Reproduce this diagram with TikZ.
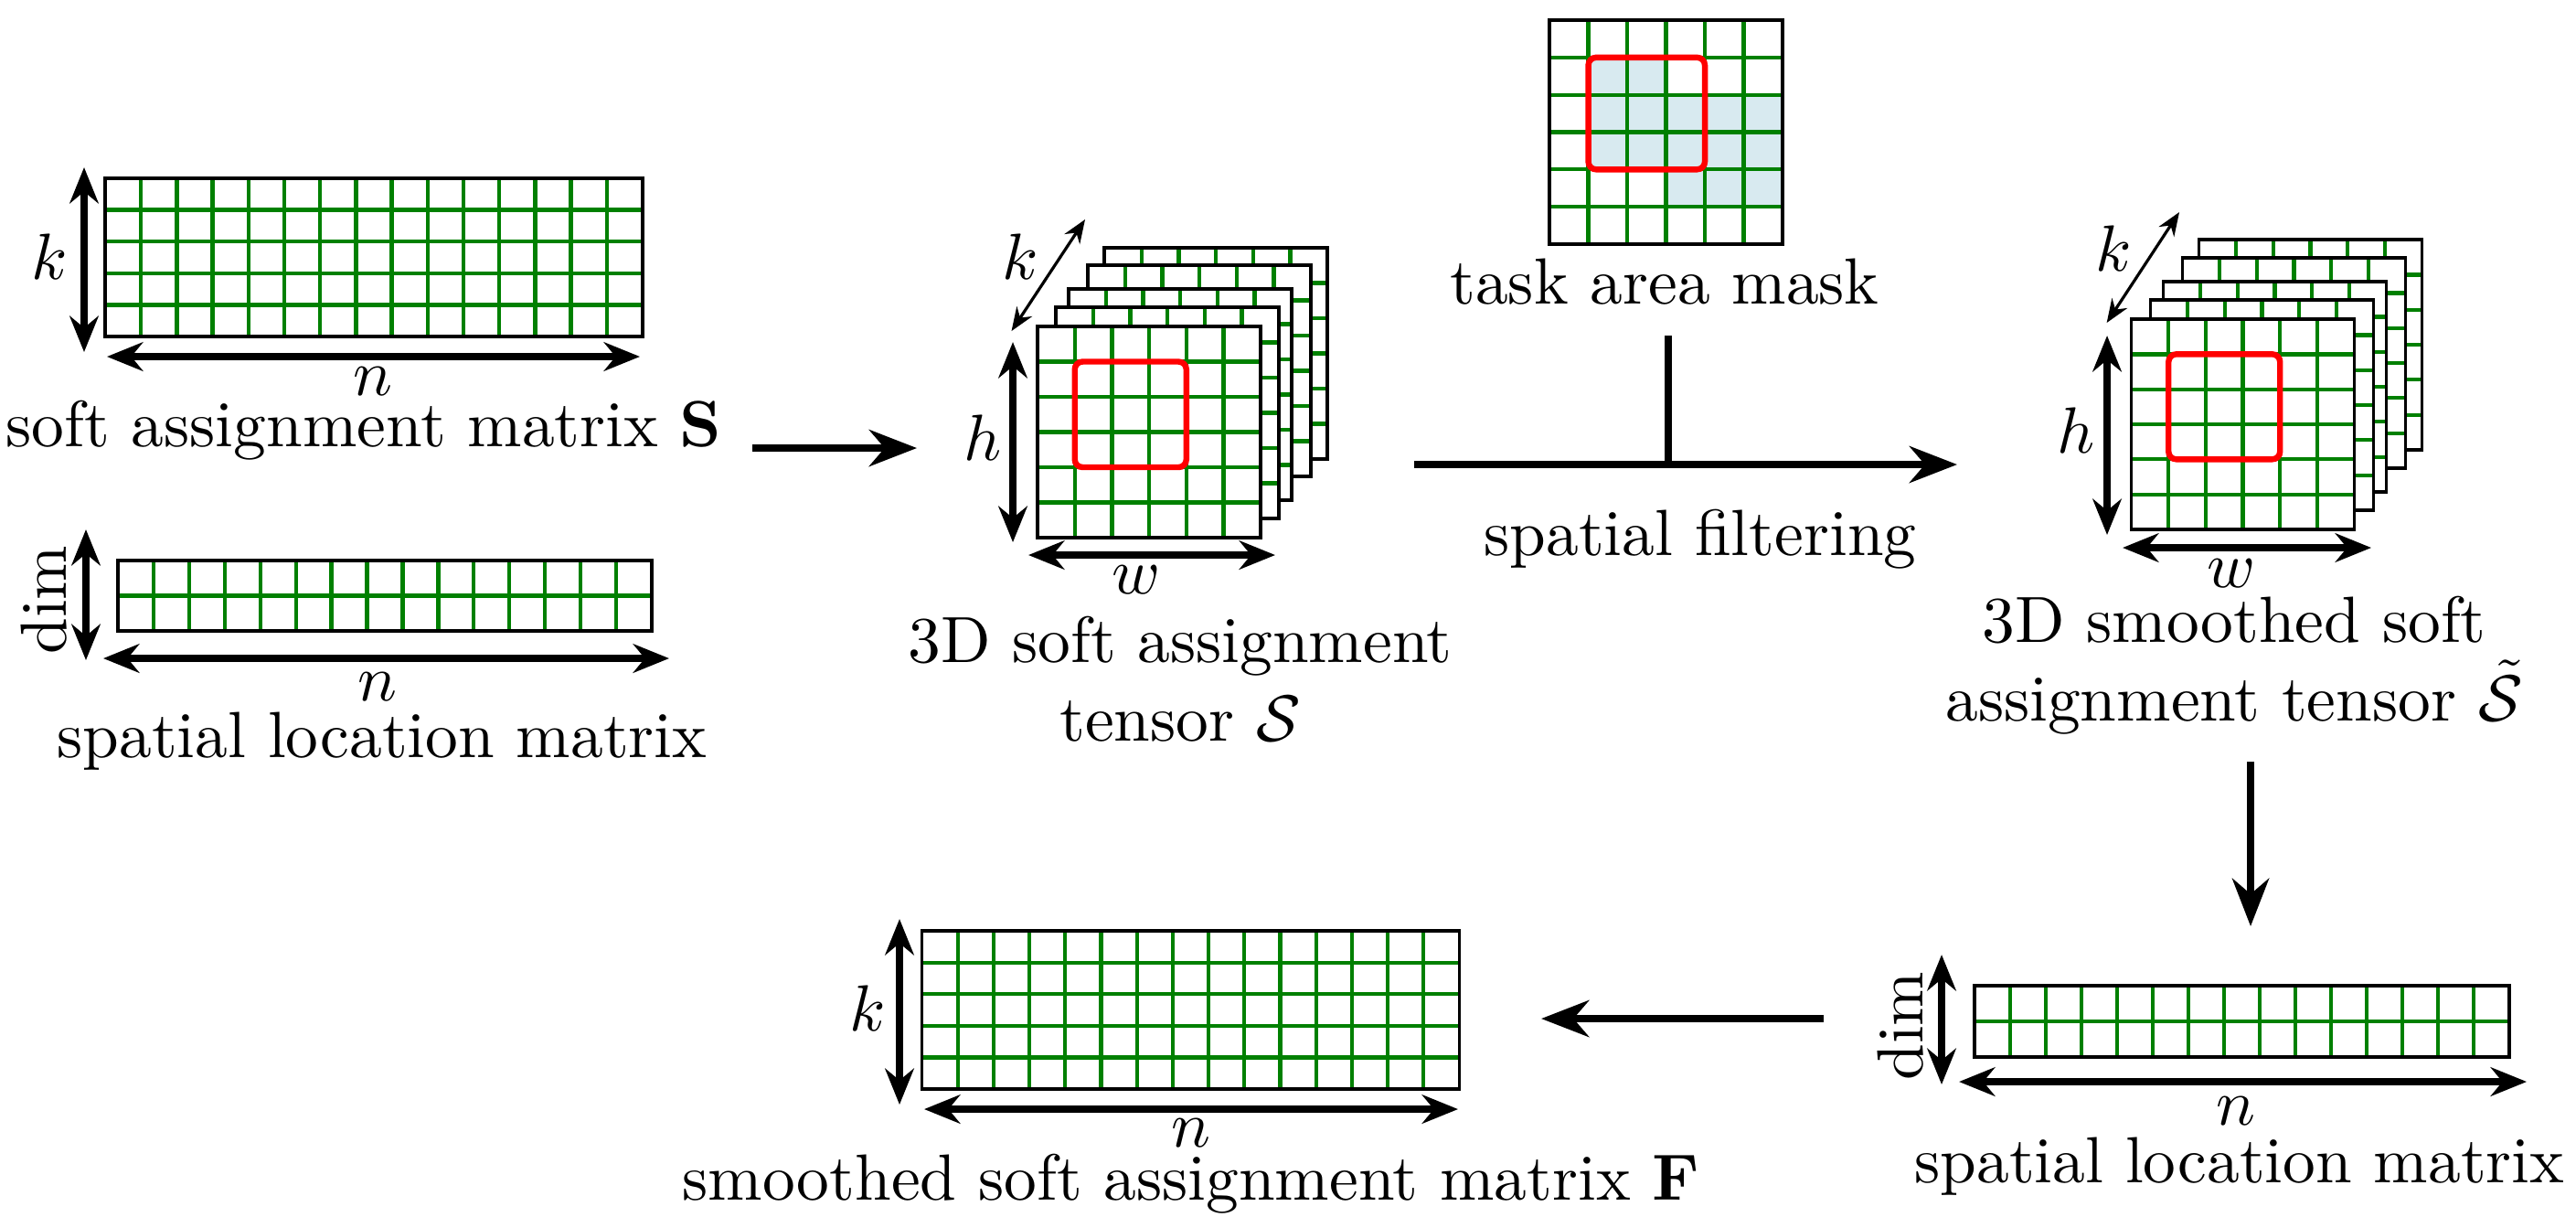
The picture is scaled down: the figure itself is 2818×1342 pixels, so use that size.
\documentclass[tikz,border=0pt]{standalone}
\usetikzlibrary{arrows.meta}

\definecolor{gridgreen}{RGB}{0,128,0}
\definecolor{maskblue}{RGB}{216,234,240}

\tikzset{every picture/.style={line width=0.5pt},
  gridline/.style={draw=gridgreen, line width=0.6pt},
  frame/.style={draw=black, line width=0.5pt},
  window/.style={draw=red, line width=0.9pt, rounded corners=1.2pt},
  dimarrow/.style={{Stealth[length=5.5pt,width=4.4pt]}-{Stealth[length=5.5pt,width=4.4pt]}, line width=1pt},
  deptharrow/.style={{Stealth[length=3.6pt,width=2.8pt]}-{Stealth[length=3.6pt,width=2.8pt]}, line width=0.45pt},
  flowarrow/.style={-{Stealth[length=7.3pt,width=5.6pt]}, line width=1.15pt},
  lbl/.style={inner sep=0pt}
}

\begin{document}
\begin{tikzpicture}[x=0.14pt,y=0.14pt,yscale=-1,xscale=1]
    \useasboundingbox (0,0) rectangle (2818,1342);

    %Shape: Grid [soft assignment matrix S]
    \begin{scope}[shift={(115,195)}]
      \fill[white] (0,0) rectangle (588,173);
      \foreach \i in {1,...,14} \draw[gridline] (\i*39.2,0) -- (\i*39.2,173);
      \foreach \j in {1,...,4} \draw[gridline] (0,\j*34.6) -- (588,\j*34.6);
      \draw[frame] (0,0) rectangle (588,173);
    \end{scope}
    \draw[dimarrow] (92,183) -- (92,385);
    \draw[dimarrow] (117,390) -- (700,390);

    %Shape: Grid [spatial location matrix, left]
    \begin{scope}[shift={(129,613)}]
      \foreach \i in {1,...,14} \draw[gridline] (\i*38.93,0) -- (\i*38.93,77);
      \draw[gridline] (0,38.5) -- (584,38.5);
      \draw[frame] (0,0) rectangle (584,77);
    \end{scope}
    \draw[dimarrow] (94,579) -- (94,722);
    \draw[dimarrow] (113,720) -- (732,720);

    %Shape: Stack [3D soft assignment tensor]
    \foreach \dx/\dy in {73/-86,55/-67,34/-41,20/-21,0/0} {
      \begin{scope}[shift={(1135+\dx,357+\dy)}]
        \fill[white] (0,0) rectangle (244,231);
        \foreach \i in {1,...,5} {
          \draw[gridline] (\i*40.67,0) -- (\i*40.67,231);
          \draw[gridline] (0,\i*38.5) -- (244,\i*38.5);
        }
        \draw[frame] (0,0) rectangle (244,231);
      \end{scope}
    }
    \draw[window] (1175.7,395.5) rectangle (1297.8,511);
    \draw[deptharrow] (1106.5,362) -- (1187,240);
    \draw[dimarrow] (1108,374) -- (1108,593);
    \draw[dimarrow] (1125,607) -- (1395,607);

    %Shape: Grid [task area mask]
    \begin{scope}[shift={(1695,22)}]
      \foreach \c/\r in {1/1,2/1,1/2,2/2,3/2,4/2,5/2,1/3,2/3,3/3,4/3,5/3,3/4,4/4,5/4}
        \fill[maskblue] (\c*42.5,\r*40.83) rectangle ++(42.5,40.83);
      \foreach \i in {1,...,5} {
        \draw[gridline] (\i*42.5,0) -- (\i*42.5,245);
        \draw[gridline] (0,\i*40.83) -- (255,\i*40.83);
      }
      \draw[frame] (0,0) rectangle (255,245);
      \draw[window] (42.5,40.83) rectangle (170,163.3);
    \end{scope}

    %Shape: Stack [3D smoothed soft assignment tensor]
    \foreach \dx/\dy in {74/-87,56/-67,35/-41,21/-21,0/0} {
      \begin{scope}[shift={(2331.5+\dx,349+\dy)}]
        \fill[white] (0,0) rectangle (244,230);
        \foreach \i in {1,...,5} {
          \draw[gridline] (\i*40.67,0) -- (\i*40.67,230);
          \draw[gridline] (0,\i*38.33) -- (244,\i*38.33);
        }
        \draw[frame] (0,0) rectangle (244,230);
      \end{scope}
    }
    \draw[window] (2372.2,387.3) rectangle (2494.2,502.3);
    \draw[deptharrow] (2304.6,353) -- (2384,232);
    \draw[dimarrow] (2305,367) -- (2305,585);
    \draw[dimarrow] (2322,599) -- (2594,599);

    %Shape: Grid [spatial location matrix, right]
    \begin{scope}[shift={(2160,1078)}]
      \foreach \i in {1,...,14} \draw[gridline] (\i*39,0) -- (\i*39,78);
      \draw[gridline] (0,39) -- (585,39);
      \draw[frame] (0,0) rectangle (585,78);
    \end{scope}
    \draw[dimarrow] (2124,1044) -- (2124,1186);
    \draw[dimarrow] (2143,1183) -- (2764,1183);

    %Shape: Grid [smoothed soft assignment matrix F]
    \begin{scope}[shift={(1008.5,1018)}]
      \fill[white] (0,0) rectangle (588,173);
      \foreach \i in {1,...,14} \draw[gridline] (\i*39.2,0) -- (\i*39.2,173);
      \foreach \j in {1,...,4} \draw[gridline] (0,\j*34.6) -- (588,\j*34.6);
      \draw[frame] (0,0) rectangle (588,173);
    \end{scope}
    \draw[dimarrow] (984,1005) -- (984,1208);
    \draw[dimarrow] (1011,1213) -- (1595,1213);

    % Text Node
    \draw (54,281) node [lbl] (kS) {$k$};
    % Text Node
    \draw (408,417) node [lbl] (nS) {$n$};
    % Text Node
    \draw (398,488) node [lbl,anchor=base] (txtS) {soft assignment matrix $\mathbf{S}$};
    % Text Node
    \draw (48,656) node [lbl,rotate=90] (dimL) {dim};
    % Text Node
    \draw (413,751) node [lbl] (nL) {$n$};
    % Text Node
    \draw (418,828) node [lbl,anchor=base] (txtL) {spatial location matrix};
    % Text Node
    \draw (1116,281) node [lbl] (kT) {$k$};
    % Text Node
    \draw (1075,479) node [lbl] (hT) {$h$};
    % Text Node
    \draw (1243,634) node [lbl] (wT) {$w$};
    % Text Node
    \draw (1291,810) node [lbl,anchor=base,align=center] (txtT) {3D soft assignment\\tensor $\mathcal{S}$};
    % Text Node
    \draw (1821,332) node [lbl,anchor=base] (txtM) {task area mask};
    % Text Node
    \draw (1860,607) node [lbl,anchor=base] (txtF) {spatial filtering};
    % Text Node
    \draw (2312,272) node [lbl] (kR) {$k$};
    % Text Node
    \draw (2271,471) node [lbl] (hR) {$h$};
    % Text Node
    \draw (2441,627) node [lbl] (wR) {$w$};
    % Text Node
    \draw (2444,788) node [lbl,anchor=base,align=center] (txtR) {3D smoothed soft\\assignment tensor $\tilde{\mathcal{S}}$};
    % Text Node
    \draw (2079,1122) node [lbl,rotate=90] (dimR) {dim};
    % Text Node
    \draw (2446,1215) node [lbl] (nR) {$n$};
    % Text Node
    \draw (2450,1293) node [lbl,anchor=base] (txtR2) {spatial location matrix};
    % Text Node
    \draw (949,1103) node [lbl] (kF) {$k$};
    % Text Node
    \draw (1303,1239) node [lbl] (nF) {$n$};
    % Text Node
    \draw (1303,1312) node [lbl,anchor=base] (txtFm) {smoothed soft assignment matrix $\mathbf{F}$};

    % Connectors
    \coordinate (sOut) at (823,490);
    \coordinate (tIn) at (1003,490);
    \coordinate (fStart) at (1547,508);
    \coordinate (fEnd) at (2141,508);
    \coordinate (fJoin) at (1825,508);
    \coordinate (maskStem) at (1825,367);
    \coordinate (dTop) at (2462,833);
    \coordinate (dBot) at (2462,1013);
    \coordinate (bRight) at (1995,1114);
    \coordinate (bLeft) at (1686,1114);
    \draw[flowarrow] (sOut) -- (tIn);
    \draw[flowarrow] (fStart) -- (fEnd);
    \draw[line width=1.15pt] (maskStem) -- (fJoin);
    \draw[flowarrow] (dTop) -- (dBot);
    \draw[flowarrow] (bRight) -- (bLeft);

\end{tikzpicture}
\end{document}
